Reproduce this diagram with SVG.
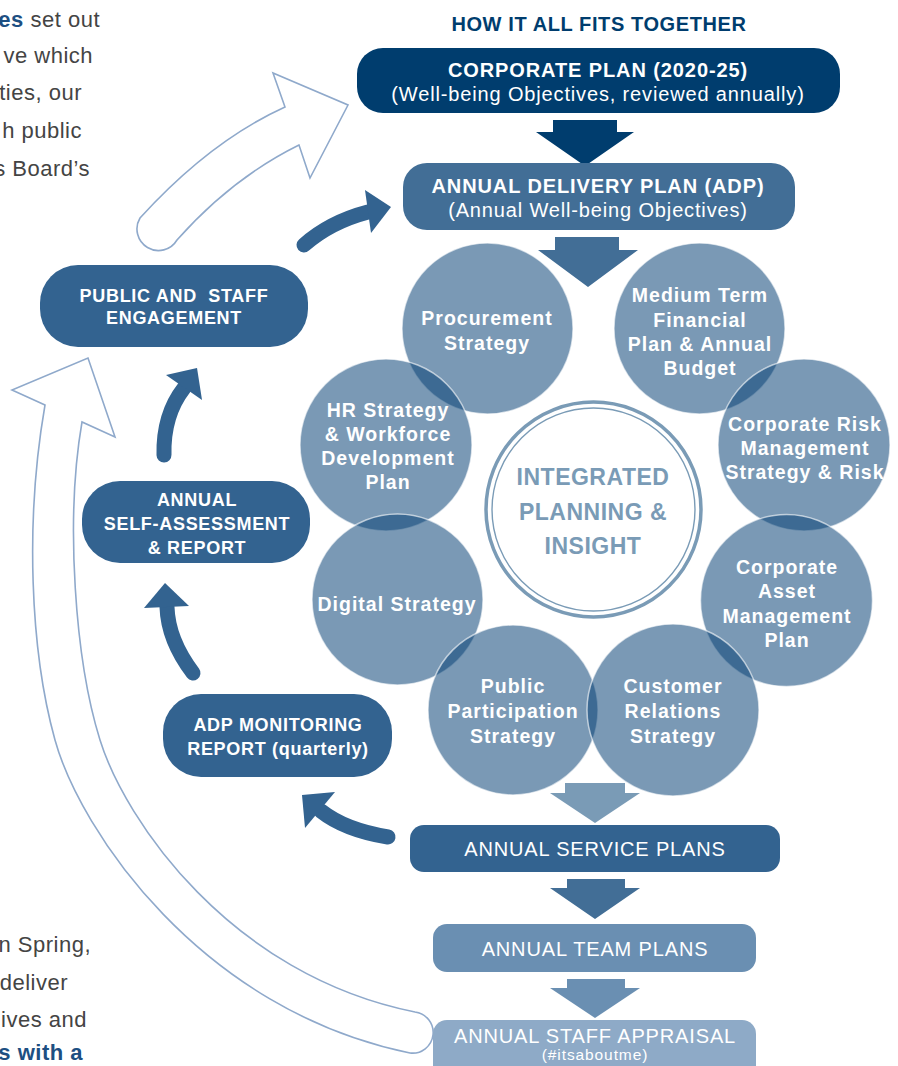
<svg xmlns="http://www.w3.org/2000/svg" width="898" height="1066" viewBox="0 0 898 1066">
<defs>
<style>
text{font-family:"Liberation Sans",Arial,sans-serif}
.wb{fill:#fff;font-weight:bold;font-size:20px;letter-spacing:0.9px;text-anchor:middle}
.wr{fill:#fff;font-size:20px;letter-spacing:0.85px;text-anchor:middle}
.lb{fill:#fff;font-weight:bold;font-size:18px;letter-spacing:0.7px;text-anchor:middle}
.ct{fill:#fff;font-weight:bold;font-size:19.5px;letter-spacing:1px;text-anchor:middle}
.circ{fill:#094276;fill-opacity:0.54;stroke:#fff;stroke-opacity:0.6;stroke-width:1.5}
.hollow{fill:#fff;stroke:#8fa9cb;stroke-width:1.6}
.shaft{fill:none;stroke:#336390;stroke-width:15;stroke-linecap:round}
.head{fill:#336390}
.side{font-size:22px;fill:#444;text-anchor:end;letter-spacing:0.5px}
.sideb{fill:#1d4f82;font-weight:bold}
.box{fill:#336390}
</style>
</defs>
<rect width="898" height="1066" fill="#fff"/>

<g id="side-text">
<text class="side" x="100" y="27"><tspan class="sideb">es</tspan> set out</text>
<text class="side" x="93" y="63">ve which</text>
<text class="side" x="82" y="100">ties, our</text>
<text class="side" x="82" y="138">h public</text>
<text class="side" x="90" y="176">s Board’s</text>
<text class="side" x="91" y="952">n Spring,</text>
<text class="side" x="68" y="990">deliver</text>
<text class="side" x="87" y="1027">ives and</text>
<text class="side sideb" x="83" y="1060">s with a</text>
</g>

<text x="599" y="31" text-anchor="middle" font-size="20" font-weight="bold" fill="#003d6e" letter-spacing="0.6">HOW IT ALL FITS TOGETHER</text>

<g id="connectors">
<path class="hollow" d="M 299 145 Q 232 178 177 240 A 21.5 21.5 0 0 1 140 218 Q 210 141 285 107 L 273 73 L 348 105 L 310 178 Z"/>
<path class="hollow" d="M 82 422 C 65 520 75 660 100 740 C 125 820 230 975 415 1012 A 20.5 20.5 0 0 1 410 1053 C 200 1010 80 830 55 740 C 30 650 25 520 45 405 L 12 390 L 88 358 L 115 437 Z"/>
<polygon fill="#003d6e" points="553,120 617,120 617,132 634,132 585,166 536,132 553,132"/>
<polygon fill="#426e96" points="555,237 619,237 619,250 638,250 588,287 538,250 555,250"/>
<polygon fill="#7a9bb6" points="565,783 625,783 625,793 640,793 595,823 550,793 565,793"/>
<polygon fill="#426e96" points="567,879 625,879 625,888 640,888 595,919 550,888 567,888"/>
<polygon fill="#6a8fb2" points="567,979 625,979 625,988 640,988 595,1018 550,988 567,988"/>
<path class="shaft" d="M 304 245 Q 330 222 368 212"/>
<polygon class="head" points="391,207 365,190 371,233"/>
<path class="shaft" d="M 164 455 Q 163 415 184 388"/>
<polygon class="head" points="197,368 166,375 202,400"/>
<path class="shaft" d="M 193 673 Q 168 640 167 607"/>
<polygon class="head" points="165,583 144,608 189,606"/>
<path class="shaft" d="M 388 837 Q 345 830 321 811"/>
<polygon class="head" points="302,795 335,792 305,828"/>
</g>

<g id="corporate-plan">
<rect x="357" y="48" width="483" height="65" rx="26" fill="#003d6e"/>
<text class="wb" x="598" y="77">CORPORATE PLAN (2020-25)</text>
<text class="wr" x="598" y="101">(Well-being Objectives, reviewed annually)</text>
</g>
<g id="adp">
<rect x="403" y="163" width="392" height="67" rx="24" fill="#426e96"/>
<text class="wb" x="598" y="193">ANNUAL DELIVERY PLAN (ADP)</text>
<text class="wr" x="598" y="217">(Annual Well-being Objectives)</text>
</g>

<g id="engagement">
<rect class="box" x="40" y="265" width="268" height="82" rx="38"/>
<text class="lb" x="174" y="302" xml:space="preserve">PUBLIC AND  STAFF</text>
<text class="lb" x="174" y="324">ENGAGEMENT</text>
</g>
<g id="self-assessment">
<rect class="box" x="82" y="481" width="228" height="82" rx="38"/>
<text class="lb" x="197" y="506">ANNUAL</text>
<text class="lb" x="197" y="530">SELF-ASSESSMENT</text>
<text class="lb" x="197" y="554">&amp; REPORT</text>
</g>
<g id="monitoring">
<rect class="box" x="163" y="694" width="229" height="83" rx="38"/>
<text class="lb" x="278" y="731">ADP MONITORING</text>
<text class="lb" x="278" y="755">REPORT (quarterly)</text>
</g>

<g id="integrated">
<circle cx="593.5" cy="509.5" r="107.5" fill="none" stroke="#7a9bb6" stroke-width="3.5"/>
<circle cx="593.5" cy="509.5" r="101.5" fill="none" stroke="#7a9bb6" stroke-width="1.4"/>
<g font-size="23" font-weight="bold" fill="#7a9bb6" text-anchor="middle" letter-spacing="0.5">
<text x="593" y="485">INTEGRATED</text>
<text x="593" y="520">PLANNING &amp;</text>
<text x="593" y="554">INSIGHT</text>
</g>
</g>

<g id="procurement">
<circle class="circ" cx="487.5" cy="328.5" r="85.5"/>
<text class="ct" x="487" y="325">Procurement</text>
<text class="ct" x="487" y="350">Strategy</text>
</g>
<g id="medium-term">
<circle class="circ" cx="699.5" cy="328.5" r="85.5"/>
<text class="ct" x="700" y="302">Medium Term</text>
<text class="ct" x="700" y="327">Financial</text>
<text class="ct" x="700" y="351">Plan &amp; Annual</text>
<text class="ct" x="700" y="375">Budget</text>
</g>
<g id="hr">
<circle class="circ" cx="386" cy="445" r="86"/>
<text class="ct" x="388" y="417">HR Strategy</text>
<text class="ct" x="388" y="441">&amp; Workforce</text>
<text class="ct" x="388" y="465">Development</text>
<text class="ct" x="388" y="489">Plan</text>
</g>
<g id="risk">
<circle class="circ" cx="804" cy="445" r="86"/>
<text class="ct" x="805" y="431">Corporate Risk</text>
<text class="ct" x="805" y="455">Management</text>
<text class="ct" x="805" y="479" letter-spacing="0.5">Strategy &amp; Risk</text>
</g>
<g id="digital">
<circle class="circ" cx="397.5" cy="599.5" r="85.5"/>
<text class="ct" x="397" y="611">Digital Strategy</text>
</g>
<g id="asset">
<circle class="circ" cx="786.5" cy="600.5" r="86"/>
<text class="ct" x="787" y="574">Corporate</text>
<text class="ct" x="787" y="598">Asset</text>
<text class="ct" x="787" y="623">Management</text>
<text class="ct" x="787" y="647">Plan</text>
</g>
<g id="public-participation">
<circle class="circ" cx="513" cy="710" r="85"/>
<text class="ct" x="513" y="693">Public</text>
<text class="ct" x="513" y="718">Participation</text>
<text class="ct" x="513" y="743">Strategy</text>
</g>
<g id="customer">
<circle class="circ" cx="673" cy="710" r="86"/>
<text class="ct" x="673" y="693">Customer</text>
<text class="ct" x="673" y="718">Relations</text>
<text class="ct" x="673" y="743">Strategy</text>
</g>

<g id="service-plans">
<rect x="410" y="825" width="370" height="47" rx="14" fill="#336390"/>
<text class="wr" x="595" y="856" letter-spacing="0.2">ANNUAL SERVICE PLANS</text>
</g>
<g id="team-plans">
<rect x="433" y="924" width="323" height="48" rx="14" fill="#6a8fb2"/>
<text class="wr" x="595" y="956" letter-spacing="0.4">ANNUAL TEAM PLANS</text>
</g>
<g id="staff-appraisal">
<rect x="433" y="1020" width="323" height="60" rx="14" fill="#8eaac7"/>
<text class="wr" x="595" y="1043" letter-spacing="0.2">ANNUAL STAFF APPRAISAL</text>
<text x="595" y="1060" text-anchor="middle" fill="#fff" font-size="15.5" letter-spacing="0.9">(#itsaboutme)</text>
</g>
</svg>
